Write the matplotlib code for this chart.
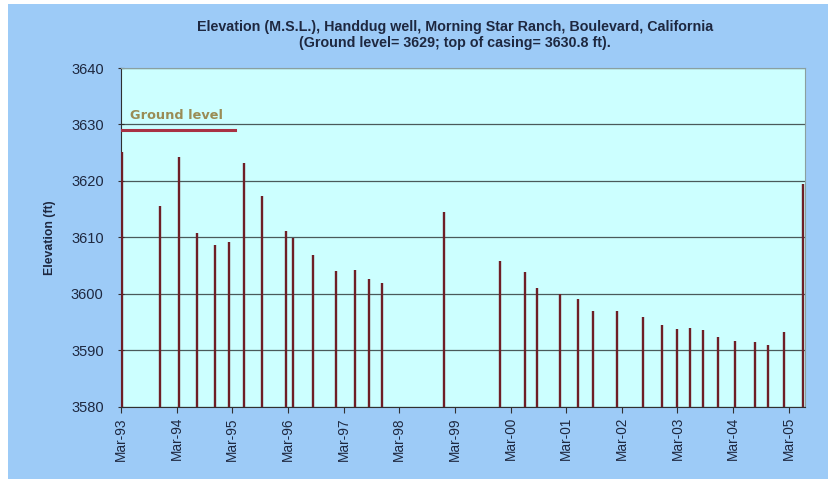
import matplotlib.pyplot as plt
import matplotlib.dates as mdates
from matplotlib.patches import Rectangle
import numpy as np
import pandas as pd

# Sampling dates and water elevation (ft above MSL)
dates = [
    "1993-03-10", "1993-11-10", "1994-03-15", "1994-07-10", "1994-11-10",
    "1995-02-10", "1995-05-20", "1995-09-10", "1996-02-15", "1996-04-05",
    "1996-08-10", "1997-01-10", "1997-05-15", "1997-08-15", "1997-11-10",
    "1998-12-20", "1999-12-20", "2000-06-01", "2000-08-20", "2001-01-20",
    "2001-05-15", "2001-08-25", "2002-01-25", "2002-07-20", "2002-11-20",
    "2003-02-25", "2003-05-25", "2003-08-15", "2003-11-20", "2004-03-15",
    "2004-07-25", "2004-10-15", "2005-01-25", "2005-06-01",
]
elevation = [
    3625.2, 3615.6, 3624.3, 3610.7, 3608.6,
    3609.1, 3623.1, 3617.4, 3611.1, 3609.8,
    3606.9, 3604.0, 3604.2, 3602.7, 3601.9,
    3614.5, 3605.8, 3603.8, 3601.1, 3599.9,
    3599.1, 3597.0, 3597.0, 3595.9, 3594.5,
    3593.8, 3593.9, 3593.5, 3592.4, 3591.6,
    3591.5, 3590.9, 3593.2, 3619.4,
]
ground_level = 3629
ground_span = ["1993-03-01", "1995-03-20"]
tick_years = list(range(1993, 2006))

x = pd.to_datetime(dates)
base = 3580

fig = plt.figure(figsize=(8.29, 4.79), dpi=100, facecolor="white")
# blue chart area with a thin white margin at the top and left
fig.patches.append(Rectangle((8 / 829, 0), 1, 1 - 4 / 479, transform=fig.transFigure,
                             facecolor="#9dcbf7", edgecolor="none", zorder=-10))
ax = fig.add_axes([121 / 829, 72.3 / 479, 684 / 829, 338.7 / 479])
ax.set_facecolor("#ccffff")

ax.vlines(x, base, elevation, color="#6e1e26", linewidth=1.7, zorder=3)

gx = pd.to_datetime(ground_span)
ax.plot(gx, [ground_level, ground_level], color="#a83244", linewidth=2.2, zorder=3)
ax.text(pd.Timestamp("1993-05-01"), 3630.5, "Ground level", color="#9a8c55",
        fontsize=9.3, fontweight="bold", family="DejaVu Sans", va="bottom", ha="left")

ax.set_ylim(3580, 3640)
ax.set_yticks(np.arange(3580, 3641, 10))
ax.set_xlim(pd.Timestamp("1993-03-01"), pd.Timestamp("2005-06-15"))
ax.set_xticks([pd.Timestamp(f"{y}-03-01") for y in tick_years])
ax.xaxis.set_major_formatter(mdates.DateFormatter("Mar-%y"))

ax.grid(axis="y", color="#4a5a5a", linewidth=0.9)
ax.set_axisbelow(True)
for side in ["top", "right"]:
    ax.spines[side].set_color("#8aa0a0")
for side in ["left", "bottom"]:
    ax.spines[side].set_color("#303030")

lab_color = "#1e2840"
ax.tick_params(axis="y", direction="inout", length=5, pad=10, colors="#303030",
               labelcolor=lab_color, labelsize=10.5)
ax.tick_params(axis="x", direction="out", length=4, colors="#303030",
               labelcolor=lab_color, labelsize=9.8, labelrotation=90)
for lbl in ax.get_xticklabels() + ax.get_yticklabels():
    lbl.set_family("Liberation Sans")

ax.set_ylabel("Elevation (ft)", fontsize=8.8, fontweight="bold", color=lab_color,
              family="Liberation Sans", labelpad=11)

fig.text(0.549, 1 - 27 / 479, "Elevation (M.S.L.), Handdug well, Morning Star Ranch, Boulevard, California",
         ha="center", va="center", fontsize=10.3, fontweight="bold", color="#1e2840",
         family="Liberation Sans")
fig.text(0.549, 1 - 43 / 479, "(Ground level= 3629; top of casing= 3630.8 ft).",
         ha="center", va="center", fontsize=10.3, fontweight="bold", color="#1e2840",
         family="Liberation Sans")

fig.savefig("out.png", dpi=100, facecolor=fig.get_facecolor())
